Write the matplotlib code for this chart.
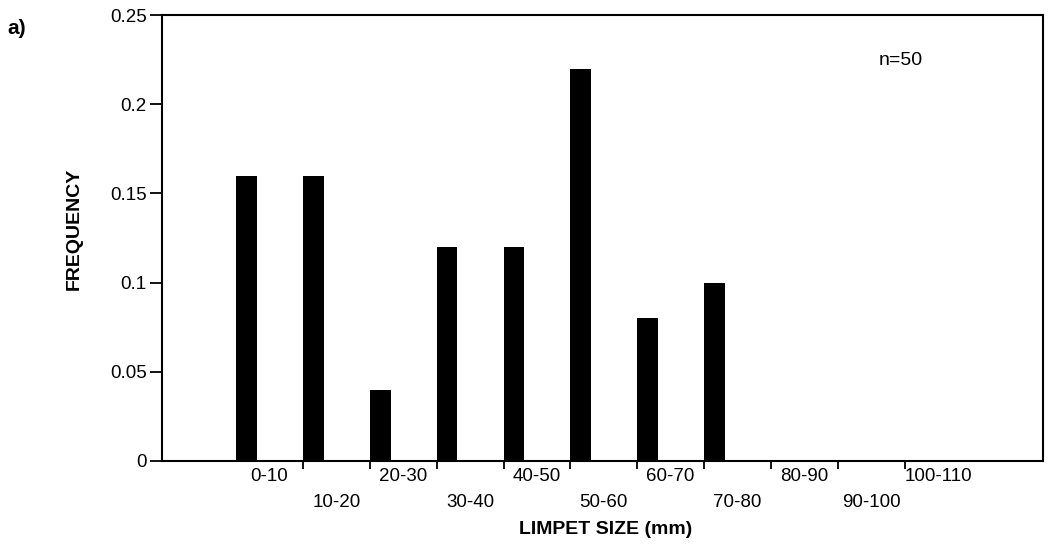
import matplotlib
matplotlib.use("Agg")
import matplotlib.pyplot as plt
import numpy as np

# Limpet shell size classes (mm) and relative frequency of each class
size_classes = ["0-10", "10-20", "20-30", "30-40", "40-50", "50-60",
                "60-70", "70-80", "80-90", "90-100", "100-110"]
frequency = [0.16, 0.16, 0.04, 0.12, 0.12, 0.22, 0.08, 0.10, 0.0, 0.0, 0.0]
sample_size = 50
y_ticks = [0, 0.05, 0.1, 0.15, 0.2, 0.25]
y_tick_labels = ["0", "0.05", "0.1", "0.15", "0.2", "0.25"]

plt.rcParams["font.family"] = ["Liberation Sans", "DejaVu Sans"]

fig = plt.figure(figsize=(10.51, 5.56), dpi=100)
ax = fig.add_axes([0.1541, 0.1709, 0.8383, 0.8021])

edges = np.arange(len(size_classes))
ax.bar(edges, frequency, width=0.31, align="edge", color="black", linewidth=0)

ax.set_xlim(-1.11, 12.07)
ax.set_ylim(0, 0.25)

# class boundaries as tick marks, class names centred between them
ax.set_xticks(edges[1:])
ax.set_xticklabels([])
ax.set_xticks(edges + 0.5, minor=True)
ax.set_xticklabels(size_classes, minor=True, fontsize=13.5)
ax.tick_params(axis="x", which="major", direction="out", length=6, width=1.3)
ax.tick_params(axis="x", which="minor", length=0)
for i, tick in enumerate(ax.xaxis.get_minor_ticks()):
    tick.set_pad(5 if i % 2 == 0 else 24)

ax.set_yticks(y_ticks)
ax.set_yticklabels(y_tick_labels, fontsize=13.5)
ax.tick_params(axis="y", direction="out", length=9, width=1.3, pad=2)

for side in ("left", "right", "top", "bottom"):
    ax.spines[side].set_linewidth(1.5)

ax.set_ylabel("FREQUENCY", fontsize=14, fontweight="bold")
ax.yaxis.set_label_coords(-0.09, 0.52)
ax.set_xlabel("LIMPET SIZE (mm)", fontsize=14, fontweight="bold")
ax.xaxis.set_label_coords(0.504, -0.154)
ax.xaxis.label.set_verticalalignment("center")

ax.text(0.838, 0.899, f"n={sample_size}", transform=ax.transAxes,
        fontsize=14, ha="center", va="center")
fig.text(0.007, 0.948, "a)", fontsize=15, fontweight="bold",
         ha="left", va="center")

fig.savefig("out.png", dpi=100)
